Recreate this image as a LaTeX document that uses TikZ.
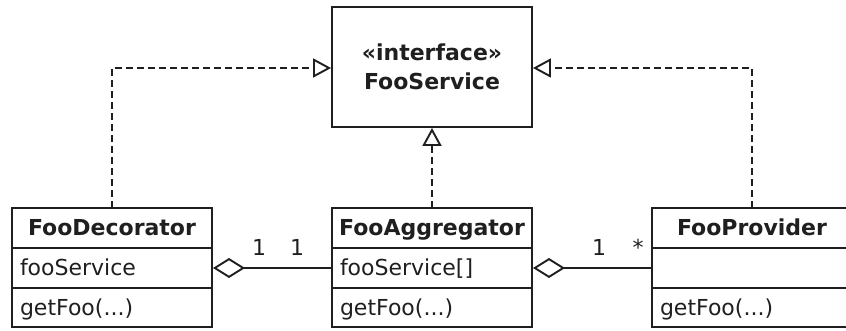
\documentclass[tikz,border=0pt]{standalone}
\usepackage{fontspec}
\setmainfont{DejaVu Sans}
\usetikzlibrary{arrows.meta,backgrounds}
\definecolor{shadowgray}{gray}{0.80}
\definecolor{ink}{gray}{0.12}
\tikzset{
  umlline/.style={line width=1.9pt, draw=ink},
  hdr/.style={rectangle, draw=ink, fill=white, line width=1.9pt, minimum width=200pt,
    minimum height=40pt, inner sep=0pt, outer sep=0pt, text width=198pt, align=center,
    text height=16pt, text depth=0pt, text=ink, font=\fontsize{22}{26}\selectfont\bfseries},
  cmp/.style={rectangle, draw=ink, fill=white, line width=1.9pt, minimum width=200pt,
    minimum height=40pt, inner xsep=8pt, inner ysep=0pt, outer sep=0pt, text width=184pt, align=left,
    text height=16pt, text depth=0pt, text=ink, font=\fontsize{22}{26}\selectfont},
  ifacebox/.style={rectangle, draw=ink, fill=white, line width=1.9pt, minimum width=200pt,
    minimum height=120pt, inner sep=0pt, align=center, text=ink,
    font=\fontsize{22}{29}\selectfont\bfseries},
  realize/.style={umlline, dash pattern=on 7pt off 4pt,
    -{Triangle[open, fill=white, length=18pt, width=19pt]}},
  aggr/.style={umlline, {Diamond[open, fill=white, length=32pt, width=20pt]}-},
  mult/.style={font=\fontsize{22}{26}\selectfont, text=ink, inner sep=0pt, anchor=base},
}
\begin{document}
\begin{tikzpicture}[x=1pt, y=-1pt]
\useasboundingbox (0,0) rectangle (846,331);
\clip (0,0) rectangle (846,331);
\fill[white] (0,0) rectangle (846,331);

% interface
\node[ifacebox] (iface) at (432,67) {«interface»\\FooService};

% FooDecorator
\node[hdr] (dech) at (112,228) {FooDecorator};
\node[cmp, anchor=north] (deca) at (dech.south) {fooService};
\node[cmp, anchor=north, minimum height=39pt] (deco) at (deca.south) {getFoo(...)};

% FooAggregator
\node[hdr] (aggh) at (432,228) {FooAggregator};
\node[cmp, anchor=north] (agga) at (aggh.south) {fooService[]};
\node[cmp, anchor=north, minimum height=39pt] (aggo) at (agga.south) {getFoo(...)};

% FooProvider
\node[hdr] (provh) at (752,228) {FooProvider};
\node[cmp, anchor=north] (prova) at (provh.south) {};
\node[cmp, anchor=north, minimum height=39pt] (provo) at (prova.south) {getFoo(...)};

% shadows
\begin{scope}[on background layer]
  \fill[shadowgray] ([shift={(4pt,-4pt)}]iface.north west) rectangle ([shift={(4pt,-4pt)}]iface.south east);
  \fill[shadowgray] ([shift={(4pt,-4pt)}]dech.north west) rectangle ([shift={(4pt,-4pt)}]deco.south east);
  \fill[shadowgray] ([shift={(4pt,-4pt)}]aggh.north west) rectangle ([shift={(4pt,-4pt)}]aggo.south east);
  \fill[shadowgray] ([shift={(4pt,-4pt)}]provh.north west) rectangle ([shift={(4pt,-4pt)}]provo.south east);
\end{scope}

% realizations
\draw[realize] (dech.north) |- ([yshift=-1pt]iface.west);
\draw[realize] (aggh.north) -- (iface.south);
\draw[realize] (provh.north) |- ([yshift=-1pt]iface.east);

% aggregations
\draw[aggr] ([xshift=1pt]deca.east) -- ([xshift=-1pt]agga.west);
\draw[aggr] ([xshift=1pt]agga.east) -- ([xshift=-1pt]prova.west);

% multiplicities
\node[mult] (m1) at (259,255) {1};
\node[mult] (m2) at (297,255) {1};
\node[mult] (m3) at (599,255) {1};
\node[mult] (m4) at (638,255) {*};
\end{tikzpicture}
\end{document}
